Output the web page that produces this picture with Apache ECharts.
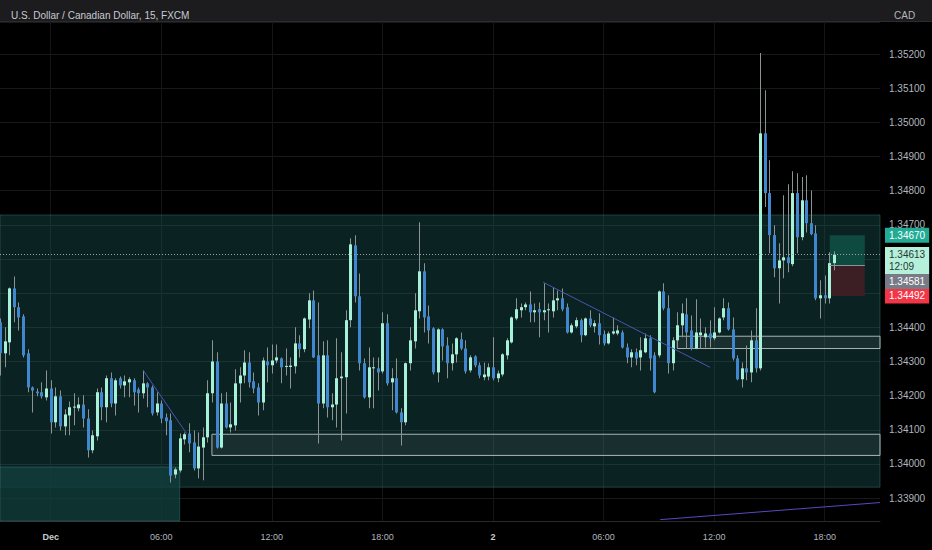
<!DOCTYPE html>
<html><head><meta charset="utf-8">
<script src="https://cdn.jsdelivr.net/npm/echarts@6/dist/echarts.min.js"></script>
<style>html,body{margin:0;padding:0;background:#000}#c{width:932px;height:550px}</style>
</head><body><div id="c"></div>
<script>
// 15-minute USD/CAD candles (FXCM), oldest first
const opens = [1.34415,1.34324,1.34356,1.34514,1.34459,1.34432,1.34324,1.34224,1.34212,1.34210,
1.34195,1.34221,1.34122,1.34198,1.34110,1.34142,1.34165,1.34163,1.34174,1.34133,
1.34040,1.34081,1.34210,1.34166,1.34251,1.34177,1.34251,1.34230,1.34239,1.34245,
1.34218,1.34207,1.34236,1.34224,1.34151,1.34177,1.34136,1.34128,1.33969,1.33981,
1.34072,1.34089,1.34063,1.33987,1.34048,1.34078,1.34207,1.34300,1.34048,1.34177,
1.34107,1.34113,1.34236,1.34259,1.34297,1.34242,1.34224,1.34180,1.34300,1.34289,
1.34303,1.34309,1.34285,1.34284,1.34286,1.34353,1.34336,1.34423,1.34479,1.34318,
1.34177,1.34318,1.34166,1.34174,1.34251,1.34254,1.34421,1.34640,1.34491,1.34295,
1.34195,1.34281,1.34280,1.34271,1.34412,1.34239,1.34251,1.34151,1.34122,1.34295,
1.34359,1.34447,1.34564,1.34432,1.34397,1.34268,1.34394,1.34347,1.34295,1.34321,
1.34365,1.34338,1.34274,1.34315,1.34289,1.34254,1.34256,1.34283,1.34251,1.34262,
1.34318,1.34356,1.34426,1.34450,1.34459,1.34467,1.34444,1.34453,1.34444,1.34450,
1.34447,1.34479,1.34485,1.34459,1.34385,1.34403,1.34421,1.34377,1.34426,1.34403,
1.34412,1.34380,1.34353,1.34382,1.34382,1.34385,1.34341,1.34312,1.34327,1.34312,
1.34327,1.34368,1.34318,1.34318,1.34505,1.34456,1.34295,1.34362,1.34406,1.34438,
1.34391,1.34338,1.34377,1.34371,1.34382,1.34368,1.34385,1.34429,1.34456,1.34394,
1.34309,1.34248,1.34280,1.34268,1.34362,1.34280,1.34968,1.34793,1.34670,1.34573,
1.34596,1.34605,1.34585,1.34793,1.34664,1.34772,1.34705,1.34675,1.34485,1.34494,
1.34485,1.34588];
const highs = [1.34426,1.34400,1.34517,1.34549,1.34473,1.34438,1.34336,1.34227,1.34221,1.34239,
1.34274,1.34245,1.34224,1.34215,1.34160,1.34183,1.34207,1.34195,1.34201,1.34160,
1.34098,1.34221,1.34224,1.34259,1.34268,1.34251,1.34256,1.34259,1.34254,1.34251,
1.34224,1.34274,1.34239,1.34230,1.34210,1.34186,1.34148,1.34148,1.33990,1.34089,
1.34092,1.34119,1.34098,1.34092,1.34107,1.34245,1.34362,1.34327,1.34207,1.34210,
1.34180,1.34277,1.34283,1.34333,1.34327,1.34268,1.34236,1.34312,1.34341,1.34350,
1.34350,1.34312,1.34338,1.34312,1.34400,1.34377,1.34429,1.34500,1.34508,1.34473,
1.34359,1.34362,1.34207,1.34368,1.34327,1.34450,1.34661,1.34670,1.34558,1.34309,
1.34341,1.34312,1.34312,1.34444,1.34438,1.34280,1.34309,1.34163,1.34297,1.34400,
1.34500,1.34708,1.34588,1.34464,1.34400,1.34397,1.34397,1.34371,1.34353,1.34371,
1.34385,1.34362,1.34318,1.34318,1.34297,1.34297,1.34295,1.34371,1.34274,1.34324,
1.34368,1.34432,1.34485,1.34470,1.34473,1.34505,1.34470,1.34473,1.34529,1.34470,
1.34517,1.34508,1.34514,1.34470,1.34412,1.34429,1.34426,1.34429,1.34450,1.34421,
1.34441,1.34391,1.34388,1.34429,1.34406,1.34391,1.34353,1.34336,1.34338,1.34371,
1.34382,1.34377,1.34327,1.34508,1.34529,1.34494,1.34371,1.34444,1.34470,1.34485,
1.34435,1.34482,1.34426,1.34400,1.34421,1.34459,1.34429,1.34485,1.34473,1.34429,
1.34318,1.34297,1.34347,1.34391,1.34456,1.35203,1.35094,1.34889,1.34699,1.34646,
1.34787,1.34819,1.34857,1.34851,1.34840,1.34845,1.34801,1.34699,1.34538,1.34552,
1.34620,1.34623];
const lows = [1.34259,1.34283,1.34318,1.34415,1.34391,1.34312,1.34210,1.34151,1.34198,1.34192,
1.34186,1.34089,1.34107,1.34098,1.34084,1.34084,1.34113,1.34154,1.34107,1.34019,
1.34031,1.34069,1.34128,1.34122,1.34166,1.34142,1.34221,1.34195,1.34195,1.34171,
1.34151,1.34192,1.34166,1.34142,1.34142,1.34119,1.34084,1.33946,1.33958,1.33975,
1.34057,1.34034,1.33981,1.33958,1.33952,1.34063,1.34180,1.34045,1.34045,1.34104,
1.34092,1.34098,1.34180,1.34236,1.34224,1.34207,1.34142,1.34157,1.34239,1.34265,
1.34295,1.34236,1.34259,1.34221,1.34265,1.34312,1.34327,1.34397,1.34310,1.34060,
1.34163,1.34136,1.34128,1.34107,1.34069,1.34148,1.34400,1.34473,1.34274,1.34192,
1.34163,1.34163,1.34215,1.34265,1.34230,1.34157,1.34148,1.34054,1.34113,1.34274,
1.34338,1.34426,1.34385,1.34353,1.34262,1.34239,1.34303,1.34251,1.34274,1.34297,
1.34333,1.34265,1.34268,1.34283,1.34251,1.34245,1.34245,1.34245,1.34239,1.34256,
1.34306,1.34353,1.34421,1.34429,1.34450,1.34415,1.34415,1.34371,1.34421,1.34385,
1.34429,1.34450,1.34447,1.34382,1.34382,1.34397,1.34356,1.34374,1.34400,1.34385,
1.34350,1.34347,1.34350,1.34378,1.34377,1.34338,1.34295,1.34283,1.34289,1.34274,
1.34324,1.34274,1.34207,1.34312,1.34450,1.34265,1.34274,1.34356,1.34371,1.34338,
1.34333,1.34336,1.34338,1.34341,1.34341,1.34362,1.34382,1.34421,1.34391,1.34303,
1.34245,1.34224,1.34245,1.34239,1.34268,1.34274,1.34752,1.34617,1.34547,1.34470,
1.34544,1.34561,1.34579,1.34617,1.34655,1.34678,1.34670,1.34479,1.34426,1.34470,
1.34470,1.34567];
const closes = [1.34324,1.34359,1.34514,1.34459,1.34429,1.34318,1.34224,1.34215,1.34207,1.34198,
1.34221,1.34122,1.34198,1.34110,1.34145,1.34166,1.34168,1.34174,1.34133,1.34040,
1.34084,1.34210,1.34166,1.34251,1.34177,1.34245,1.34230,1.34242,1.34248,1.34210,
1.34207,1.34236,1.34224,1.34148,1.34177,1.34133,1.34125,1.33966,1.33984,1.34075,
1.34087,1.34060,1.33987,1.34051,1.34078,1.34207,1.34300,1.34048,1.34177,1.34107,
1.34116,1.34236,1.34259,1.34297,1.34239,1.34221,1.34180,1.34303,1.34289,1.34303,
1.34312,1.34283,1.34287,1.34288,1.34353,1.34336,1.34426,1.34479,1.34312,1.34177,
1.34318,1.34166,1.34174,1.34251,1.34256,1.34421,1.34643,1.34491,1.34295,1.34195,
1.34283,1.34283,1.34268,1.34412,1.34236,1.34251,1.34151,1.34122,1.34295,1.34362,
1.34450,1.34564,1.34429,1.34391,1.34268,1.34394,1.34344,1.34295,1.34321,1.34368,
1.34338,1.34271,1.34312,1.34289,1.34259,1.34262,1.34283,1.34251,1.34265,1.34321,
1.34362,1.34429,1.34453,1.34459,1.34467,1.34444,1.34450,1.34444,1.34450,1.34453,
1.34479,1.34485,1.34453,1.34385,1.34406,1.34421,1.34377,1.34426,1.34406,1.34412,
1.34377,1.34353,1.34382,1.34388,1.34391,1.34341,1.34312,1.34327,1.34309,1.34333,
1.34368,1.34309,1.34210,1.34505,1.34456,1.34295,1.34362,1.34406,1.34441,1.34385,
1.34338,1.34385,1.34385,1.34382,1.34368,1.34385,1.34426,1.34456,1.34394,1.34309,
1.34248,1.34280,1.34268,1.34362,1.34280,1.34968,1.34793,1.34670,1.34573,1.34596,
1.34605,1.34588,1.34793,1.34664,1.34772,1.34705,1.34673,1.34485,1.34494,1.34485,
1.34588,1.34613];

// time scale: bar index -> 15-minute timestamps
const BAR = 15 * 60 * 1000;
const START = Date.UTC(2022, 10, 30, 21, 15);
const tickTimes = [Date.UTC(2022,11,1,0), Date.UTC(2022,11,1,6), Date.UTC(2022,11,1,12), Date.UTC(2022,11,1,18),
                   Date.UTC(2022,11,2,0), Date.UTC(2022,11,2,6), Date.UTC(2022,11,2,12), Date.UTC(2022,11,2,18)];
const countdown = '12:09';

// drawings (bar index, price)
const bigZone = [0, 1.33932, 191, 1.34729];
const lowerZone = [0, 1.33833, 39, 1.33991];
const rectA = [46, 1.34025, 191, 1.34087];
const rectB = [147, 1.34338, 191, 1.34374];
const trendLines = [[31.1, 1.34274, 40.5, 1.34089], [117.9, 1.34532, 154.1, 1.34283], [143.3, 1.33837, 191, 1.33887]];
const position = {from: 180.1, to: 187.7, target: 1.34670, entry: 1.34581, stop: 1.34492};

const tickIdx = tickTimes.map(t => (t - START) / BAR);
const data = opens.map((o, i) => [i, o, closes[i], lows[i], highs[i]]);
const last = closes[closes.length - 1];
const X_END = 191;
const tagPrices = [last, position.entry, position.stop];

const FONT = 'Liberation Sans, Arial, sans-serif';
const BULL = '#a7f1d8', BEAR = '#4087cf', WICK = '#8b9393';

function area(z, style) {
  return [{xAxis: z[0], yAxis: z[1], itemStyle: style}, {xAxis: z[2], yAxis: z[3]}];
}
function tag(v, bg, color, text, lineStyle, offset) {
  return [
    {coord: [lineStyle ? 0 : X_END - 1, v], lineStyle: lineStyle || {width: 0, color: 'rgba(0,0,0,0)'},
     label: {show: true, position: 'end', distance: 5, formatter: text || v.toFixed(5), backgroundColor: bg, color: color,
       padding: [2, 4, 1, 4], fontSize: 10, fontFamily: FONT, lineHeight: 12, offset: offset || [0, 0]}},
    {coord: [X_END, v]}
  ];
}

const chart = echarts.init(document.getElementById('c'), null, {renderer: 'svg'});
chart.setOption({
  animation: false,
  backgroundColor: '#000',
  graphic: [
    {type: 'rect', shape: {x: 0, y: 0, width: 932, height: 21}, style: {fill: '#1c1c1e'}, silent: true},
    {type: 'rect', shape: {x: 0, y: 21, width: 932, height: 1}, style: {fill: '#2b2b2e'}, silent: true}
  ],
  title: [
    {text: 'U.S. Dollar / Canadian Dollar, 15, FXCM', left: 6, top: 5,
     textStyle: {fontSize: 10, fontWeight: 'normal', color: '#c8cbd2', fontFamily: FONT}},
    {text: 'CAD', left: 889, top: 5, textStyle: {fontSize: 10, fontWeight: 'normal', color: '#b2b5be', fontFamily: FONT}}
  ],
  grid: {left: 0, right: 52, top: 22, bottom: 29},
  xAxis: {
    type: 'value', min: 0, max: X_END,
    axisLine: {show: true, lineStyle: {color: '#2a2a2c'}},
    axisTick: {show: false, customValues: tickIdx},
    splitLine: {show: true, lineStyle: {color: '#141416', width: 1}},
    axisLabel: {
      customValues: tickIdx, color: '#b2b5be', fontSize: 9, fontFamily: FONT, margin: 11,
      formatter: v => {
        const d = new Date(START + v * BAR); const h = d.getUTCHours();
        if (h === 0) return '{b|' + (d.getUTCDate() === 1 ? 'Dec' : d.getUTCDate()) + '}';
        return String(h).padStart(2, '0') + ':00';
      },
      rich: {b: {fontWeight: 'bold', color: '#c8cbd2', fontSize: 9, fontFamily: FONT}}
    }
  },
  yAxis: {
    type: 'value', position: 'right', min: 1.33833, max: 1.35294, splitNumber: 15, scale: true,
    axisLine: {show: false}, axisTick: {show: false},
    splitLine: {show: true, lineStyle: {color: '#19191b'}},
    axisLabel: {color: '#b2b5be', fontSize: 10, fontFamily: FONT, margin: 9, showMinLabel: false, showMaxLabel: false,
      // labels hidden behind the price tags are left out
      formatter: v => tagPrices.some(p => Math.abs(p - v) < 0.00025) ? '' : v.toFixed(5)}
  },
  series: [{
    type: 'custom',
    data: data,
    encode: {x: 0, y: [1, 2, 3, 4]},
    clip: false,
    renderItem: (params, api) => {
      const t = api.value(0), o = api.value(1), c = api.value(2), l = api.value(3), h = api.value(4);
      const po = api.coord([t, o]), pc = api.coord([t, c]), pl = api.coord([t, l]), ph = api.coord([t, h]);
      const cx = Math.round(po[0]);
      const top = Math.min(po[1], pc[1]);
      const bh = Math.max(1, Math.abs(po[1] - pc[1]));
      const bull = c >= o;
      return {type: 'group', children: [
        {type: 'rect', shape: {x: cx, y: ph[1], width: 1, height: Math.max(1, pl[1] - ph[1])}, style: {fill: WICK}},
        {type: 'rect', shape: {x: cx - 1, y: top, width: 3, height: bh}, style: {fill: bull ? BULL : BEAR}}
      ]};
    },
    markArea: {
      silent: true, label: {show: false},
      data: [
        area(bigZone, {color: 'rgba(36,112,112,0.30)', borderColor: 'rgba(70,150,145,0.35)', borderWidth: 1}),
        area(lowerZone, {color: 'rgba(16,62,60,0.80)', borderColor: 'rgba(70,150,145,0.35)', borderWidth: 1}),
        area(rectA, {color: 'rgba(255,255,255,0.06)', borderColor: '#aab4b3', borderWidth: 1}),
        area(rectB, {color: 'rgba(255,255,255,0.06)', borderColor: '#aab4b3', borderWidth: 1}),
        [{xAxis: position.from, yAxis: position.entry, itemStyle: {color: '#0f4a41'}}, {xAxis: position.to, yAxis: position.target}],
        [{xAxis: position.from, yAxis: position.stop, itemStyle: {color: '#3b1f25'}}, {xAxis: position.to, yAxis: position.entry}]
      ]
    },
    markLine: {
      silent: true, symbol: 'none', animation: false,
      data: [
        ...trendLines.map((l, k) => [
          {coord: [l[0], l[1]], lineStyle: {color: k === 2 ? '#5a48c0' : '#4a56b0', width: 1, type: 'solid'}, label: {show: false}},
          {coord: [l[2], l[3]]}
        ]),
        [{coord: [position.from, position.entry], lineStyle: {color: '#8d9292', width: 1, type: 'solid'}, label: {show: false}},
         {coord: [position.to, position.entry]}],
        tag(position.target, '#22ab94', '#ffffff'),
        tag(position.stop, '#f23645', '#ffffff'),
        tag(position.entry, '#787b86', '#ffffff', null, null, [0, 16]),
        tag(last, '#b4f0da', '#2a3432', last.toFixed(5) + '\n' + countdown, {color: '#9aa0a6', type: [1, 2], width: 1}, [0, 6])
      ]
    }
  }]
});
</script>
</body></html>
